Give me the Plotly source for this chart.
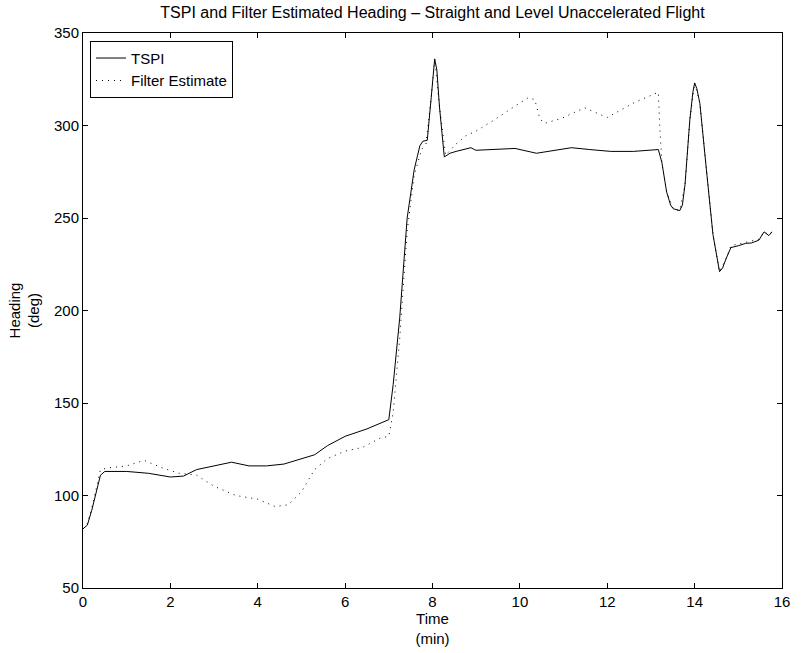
import plotly.graph_objects as go

tspi_t = [0, 0.1, 0.2, 0.3, 0.4, 0.5, 0.7, 1.0, 1.5, 2.0, 2.3, 2.6, 3.0, 3.4, 3.8, 4.2, 4.6, 5.0, 5.3,
          5.6, 6.0, 6.5, 7.0, 7.1, 7.25, 7.42, 7.58, 7.66, 7.71, 7.78, 7.88, 7.97, 8.05, 8.1, 8.16, 8.27,
          8.4, 8.54, 8.75, 8.88, 8.99, 9.44, 9.89, 10.38, 10.8, 11.18, 11.6, 12.08, 12.6, 13.0, 13.17,
          13.25, 13.36, 13.45, 13.51, 13.66, 13.72, 13.78, 13.89, 13.96, 14.0, 14.05, 14.12, 14.27,
          14.42, 14.57, 14.64, 14.72, 14.83, 15.0, 15.17, 15.3, 15.47, 15.59, 15.7, 15.77]
tspi_h = [82, 84, 92, 102, 111, 113, 113, 113, 112, 110, 110.5, 114, 116, 118, 116, 116, 117, 120, 122,
          127, 132, 136, 141, 160, 196, 250, 276, 284, 289, 291.5, 292, 315, 336, 330, 310, 283,
          285, 286, 287, 288, 286.6, 287.3, 287.6, 285, 286.5, 288, 287, 286, 286, 286.5, 287,
          280, 264, 257, 255, 254, 257, 268, 303, 318, 323, 320, 312, 276,
          241, 221, 223, 228, 234, 235, 236.3, 236.5, 238, 242.5, 240.5, 242.5]

filt_t = [0, 0.1, 0.2, 0.3, 0.4, 0.6, 1.0, 1.4, 1.8, 2.2, 2.6, 3.0, 3.5, 4.0, 4.4, 4.7, 5.0, 5.3, 5.6,
          6.0, 6.4, 6.8, 7.0, 7.1, 7.25, 7.42, 7.58, 7.75, 7.85, 7.97, 8.05, 8.16, 8.3, 8.54, 8.76, 9.0,
          9.44, 9.89, 10.19, 10.34, 10.46, 10.57, 10.95, 11.48, 12.0, 12.61, 13.17, 13.2, 13.25, 13.36,
          13.51, 13.66, 13.78, 13.89, 14.0, 14.12, 14.27, 14.42, 14.57, 14.72, 14.83, 15.0, 15.17, 15.3,
          15.47, 15.59, 15.7, 15.77]
filt_h = [82, 85, 93, 103, 114, 115, 116, 119, 115, 112, 111, 105, 100, 98, 94, 95, 102, 114, 120,
          124, 126, 131, 132, 145, 185, 243, 273, 287, 290, 315, 336, 310, 284, 290, 294.4, 297,
          303.4, 310.5, 315, 314, 303.4, 301.2, 303.8, 309.6, 304.3, 312.3, 318, 300, 280, 264,
          255, 254, 268, 303, 323, 312, 276, 241, 221, 228, 235, 236, 237, 237.5,
          238.5, 242.5, 241, 242.5]

x_ticks = [0, 2, 4, 6, 8, 10, 12, 14, 16]
y_ticks = [50, 100, 150, 200, 250, 300, 350]

FONT = "Liberation Sans, Arial, sans-serif"

fig = go.Figure()
fig.add_trace(go.Scatter(x=tspi_t, y=tspi_h, mode="lines", name="TSPI",
                         line=dict(color="black", width=1)))
fig.add_trace(go.Scatter(x=filt_t, y=filt_h, mode="lines", name="Filter Estimate",
                         line=dict(color="black", width=1, dash="1px,5px")))

axis_common = dict(showline=True, linecolor="black", linewidth=1, mirror="ticks",
                   ticks="inside", ticklen=5, tickcolor="black", showgrid=False, zeroline=False,
                   tickfont=dict(family=FONT, size=15, color="black"))

fig.update_layout(
    width=801, height=653,
    paper_bgcolor="white", plot_bgcolor="white",
    margin=dict(l=83, r=11, t=33, b=61),
    title=dict(text="TSPI and Filter Estimated Heading \u2013 Straight and Level Unaccelerated Flight",
               x=0.5, xanchor="center", xref="paper", y=0.99, yanchor="top",
               font=dict(family=FONT, size=16, color="black")),
    font=dict(family=FONT, size=15, color="black"),
    showlegend=True,
    legend=dict(x=0.01, y=0.986, xanchor="left", yanchor="top", bordercolor="black", borderwidth=1,
                bgcolor="white", font=dict(family=FONT, size=15, color="black"),
                tracegroupgap=0, itemwidth=30),
)
fig.update_xaxes(range=[0, 16], tickvals=x_ticks, ticktext=[str(v) for v in x_ticks],
                 title=dict(text="Time<br>(min)", font=dict(family=FONT, size=15), standoff=2),
                 **axis_common)
fig.update_yaxes(range=[50, 350], tickvals=y_ticks, ticktext=[str(v) for v in y_ticks],
                 title=dict(text="Heading<br>(deg)", font=dict(family=FONT, size=15), standoff=10),
                 **axis_common)

fig.write_html("out.html", config={"displayModeBar": False},
               post_script="document.body.style.margin='0';document.body.style.overflow='hidden';")
